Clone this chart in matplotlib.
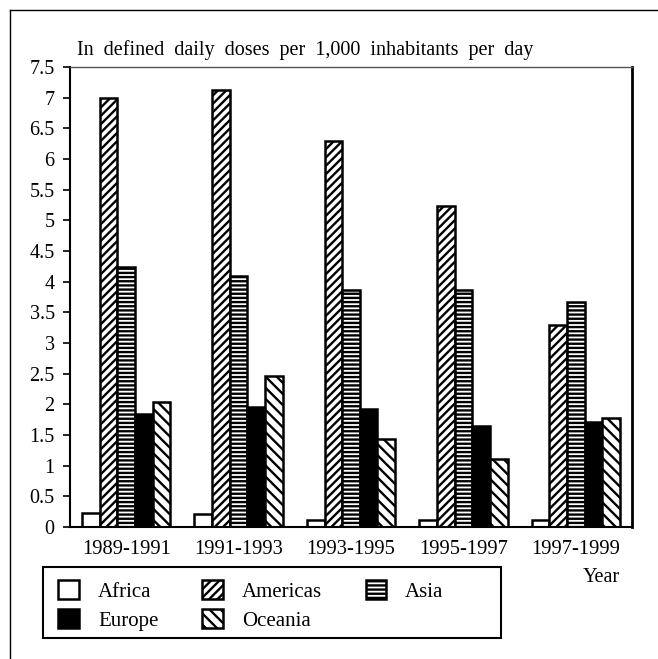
import matplotlib
matplotlib.use("Agg")
import matplotlib.pyplot as plt
import numpy as np
from matplotlib.patches import Rectangle
from matplotlib.lines import Line2D

plt.rcParams['font.family'] = ['Liberation Serif', 'DejaVu Serif']
plt.rcParams['hatch.linewidth'] = 1.7

periods = ['1989-1991', '1991-1993', '1993-1995', '1995-1997', '1997-1999']
regions = ['Africa', 'Americas', 'Asia', 'Europe', 'Oceania']
africa = [0.23, 0.22, 0.11, 0.11, 0.11]
americas = [7.00, 7.13, 6.30, 5.24, 3.30]
asia = [4.24, 4.09, 3.86, 3.87, 3.67]
europe = [1.84, 1.96, 1.92, 1.64, 1.71]
oceania = [2.04, 2.46, 1.44, 1.11, 1.78]
yticks = [0, 0.5, 1, 1.5, 2, 2.5, 3, 3.5, 4, 4.5, 5, 5.5, 6, 6.5, 7, 7.5]

series = [africa, americas, asia, europe, oceania]
fills = ['white', 'white', 'white', 'black', 'white']
hatches = ['', '////', '----', '', '\\\\\\']

W, H = 658, 659
fig = plt.figure(figsize=(W / 100, H / 100), dpi=100)
ax = fig.add_axes([70 / W, 1 - 527 / H, 562 / W, 460 / H])

x = np.arange(len(periods))
bw = 0.157
handles = []
for i, vals in enumerate(series):
    b = ax.bar(x + (i - 2) * bw, vals, bw, color=fills[i], edgecolor='black',
               linewidth=1.8, hatch=hatches[i], label=regions[i])
    handles.append(b)

ax.set_xlim(-0.5, 4.5)
ax.set_ylim(0, 7.5)
ax.set_yticks(yticks)
ax.set_yticklabels([('%g' % t) for t in yticks], fontsize=14.5)
ax.set_xticks(x)
ax.set_xticklabels(periods, fontsize=14.8)
ax.tick_params(axis='x', length=0, pad=9)
ax.tick_params(axis='y', length=5, width=1.2, direction='out', pad=6)
for s in ['left', 'bottom', 'right']:
    ax.spines[s].set_linewidth(1.5)
ax.spines['right'].set_linewidth(2)
ax.spines['top'].set_color('#555555')
ax.spines['top'].set_linewidth(1)

fig.text(77 / W, 1 - 50 / H, 'In  defined  daily  doses  per  1,000  inhabitants  per  day',
         fontsize=14.5, ha='left', va='center')
fig.text(601 / W, 1 - 577 / H, 'Year', fontsize=14.5, ha='center', va='center')

# legend, filled row by row
order = [0, 3, 1, 4, 2]
leg = fig.legend([handles[k] for k in order], [regions[k] for k in order],
                 ncol=3, frameon=False, fontsize=15, loc='upper left',
                 bbox_to_anchor=(48 / W, 1 - 570 / H), borderpad=0,
                 handlelength=1.0, handleheight=1.0, handletextpad=0.9,
                 columnspacing=2.1, labelspacing=0.35)
fig.patches.append(Rectangle((43 / W, 1 - 638 / H), 458 / W, 71 / H,
                             transform=fig.transFigure, fill=False,
                             edgecolor='black', linewidth=1.5))

# outer frame
fig.lines.append(Line2D([10 / W, 10 / W], [0, 1 - 10 / H], transform=fig.transFigure,
                        color='black', linewidth=1))
fig.lines.append(Line2D([10 / W, 1], [1 - 10 / H, 1 - 10 / H], transform=fig.transFigure,
                        color='black', linewidth=1))

fig.savefig('out.png', dpi=100)
